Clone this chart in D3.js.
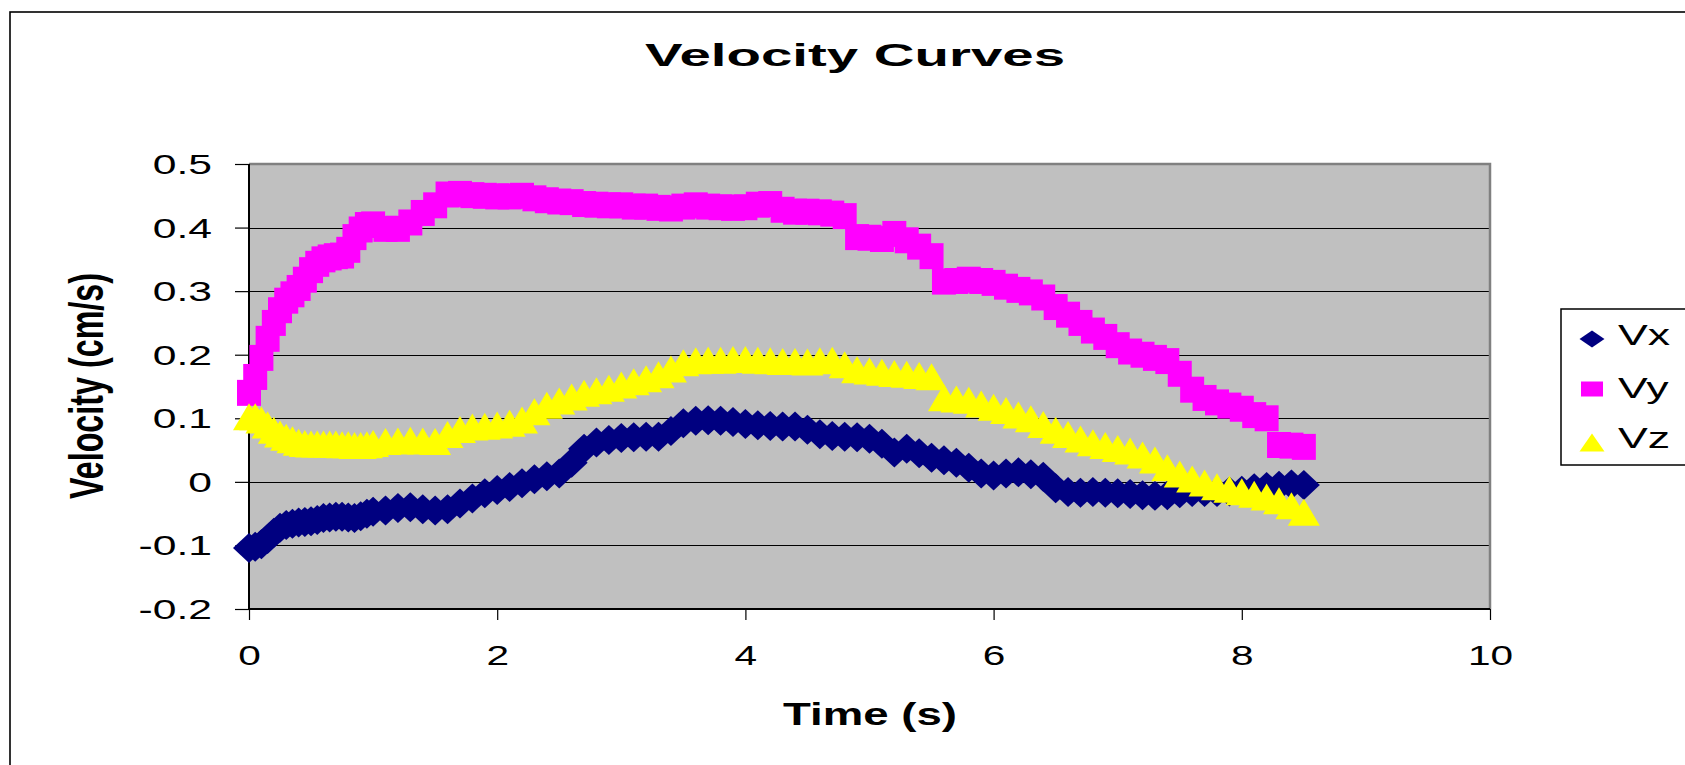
<!DOCTYPE html>
<html>
<head>
<meta charset="utf-8">
<script src="https://cdn.jsdelivr.net/npm/d3@7"></script>
<style>
  html, body { margin: 0; padding: 0; background: #fff; }
  svg { display: block; }
  text { font-family: "Liberation Sans", Arial, sans-serif; fill: #000; }
</style>
</head>
<body>
<svg id="chart" width="1685" height="765"></svg>
<script>
// ---------------- data ----------------
const time = [0,0.05,0.1,0.15,0.2,0.25,0.3,0.35,0.4,0.45,0.5,0.55,0.6,0.65,0.7,0.75,0.8,0.85,0.9,0.95,
  1.0,1.1,1.2,1.3,1.4,1.5,1.6,1.7,1.8,1.9,2.0,2.1,2.2,2.3,2.4,2.5,2.6,2.7,2.8,2.9,
  3.0,3.1,3.2,3.3,3.4,3.5,3.6,3.7,3.8,3.9,4.0,4.1,4.2,4.3,4.4,4.5,4.6,4.7,4.8,4.9,
  5.0,5.1,5.2,5.3,5.4,5.5,5.6,5.7,5.8,5.9,6.0,6.1,6.2,6.3,6.4,6.5,6.6,6.7,6.8,6.9,
  7.0,7.1,7.2,7.3,7.4,7.5,7.6,7.7,7.8,7.9,8.0,8.1,8.2,8.3,8.4,8.5];

const vx = [-0.104,-0.102,-0.098,-0.090,-0.080,-0.072,-0.068,-0.066,-0.064,-0.063,-0.062,-0.060,-0.057,-0.056,-0.055,-0.055,-0.056,-0.057,-0.054,-0.050,
  -0.047,-0.045,-0.041,-0.040,-0.043,-0.045,-0.043,-0.034,-0.026,-0.018,-0.013,-0.008,-0.002,0.004,0.009,0.013,0.030,0.052,0.062,0.066,
  0.069,0.070,0.071,0.071,0.080,0.092,0.096,0.097,0.096,0.094,0.091,0.089,0.088,0.087,0.087,0.082,0.075,0.072,0.071,0.070,
  0.068,0.060,0.046,0.052,0.045,0.038,0.034,0.030,0.022,0.013,0.010,0.013,0.015,0.012,0.008,-0.010,-0.016,-0.017,-0.016,-0.017,
  -0.018,-0.019,-0.021,-0.022,-0.021,-0.018,-0.016,-0.016,-0.016,-0.015,-0.014,-0.010,-0.008,-0.006,-0.004,-0.005];

const vy = [0.140,0.165,0.195,0.225,0.250,0.270,0.285,0.295,0.305,0.318,0.333,0.343,0.350,0.353,0.355,0.356,0.365,0.385,0.397,0.404,
  0.405,0.398,0.398,0.408,0.423,0.435,0.452,0.453,0.451,0.450,0.449,0.449,0.450,0.446,0.443,0.441,0.440,0.437,0.436,0.435,
  0.435,0.433,0.433,0.431,0.430,0.433,0.435,0.433,0.432,0.431,0.432,0.436,0.437,0.428,0.425,0.425,0.424,0.422,0.418,0.385,
  0.384,0.382,0.390,0.380,0.370,0.355,0.315,0.316,0.318,0.316,0.313,0.307,0.302,0.298,0.290,0.275,0.263,0.250,0.238,0.228,
  0.215,0.205,0.200,0.195,0.190,0.170,0.145,0.132,0.125,0.120,0.115,0.105,0.100,0.058,0.057,0.055];

const vz = [0.100,0.100,0.095,0.087,0.079,0.073,0.068,0.064,0.060,0.058,0.057,0.057,0.057,0.057,0.057,0.056,0.056,0.055,0.055,0.056,
  0.058,0.061,0.062,0.063,0.062,0.061,0.072,0.080,0.084,0.085,0.087,0.090,0.095,0.108,0.118,0.125,0.131,0.137,0.141,0.145,
  0.150,0.155,0.160,0.166,0.175,0.185,0.188,0.189,0.189,0.190,0.190,0.189,0.188,0.187,0.187,0.186,0.188,0.189,0.182,0.174,
  0.172,0.170,0.168,0.167,0.165,0.163,0.130,0.128,0.126,0.120,0.115,0.110,0.103,0.097,0.088,0.079,0.072,0.065,0.059,0.055,
  0.050,0.046,0.040,0.032,0.020,0.010,0.002,-0.004,-0.010,-0.014,-0.018,-0.022,-0.026,-0.032,-0.040,-0.050];

const seriesNames = ["Vx", "Vy", "Vz"];
const xTicks = [0, 2, 4, 6, 8, 10];
const xTickLabels = ["0", "2", "4", "6", "8", "10"];
const yTicks = [-0.2, -0.1, 0, 0.1, 0.2, 0.3, 0.4, 0.5];
const yTickLabels = ["-0.2", "-0.1", "0", "0.1", "0.2", "0.3", "0.4", "0.5"];

// ---------------- layout ----------------
const svg = d3.select("#chart");
const L = 249, R = 1490, T = 164, B = 609;
const x = d3.scaleLinear().domain([0, 10]).range([L, R]);
const y = d3.scaleLinear().domain([-0.2, 0.5]).range([B, T]);

// outer chart frame (extends past the right/bottom edge)
svg.append("rect").attr("x", 10).attr("y", 12).attr("width", 1720).attr("height", 800)
  .attr("fill", "#fff").attr("stroke", "#000").attr("stroke-width", 1.6);

// plot background
svg.append("rect").attr("x", L).attr("y", T).attr("width", R - L).attr("height", B - T)
  .attr("fill", "#C0C0C0");

// gridlines
svg.append("g").selectAll("line").data(yTicks.filter(d => d > -0.2 && d < 0.5)).join("line")
  .attr("x1", L).attr("x2", R).attr("y1", d => Math.round(y(d)) + 0.5).attr("y2", d => Math.round(y(d)) + 0.5)
  .attr("stroke", "#000").attr("stroke-width", 1);

// top/right border (gray)
svg.append("path").attr("d", `M${L},${T}H${R}V${B}`).attr("fill", "none")
  .attr("stroke", "#808080").attr("stroke-width", 2.5);

// axes
const yAxis = svg.append("g").attr("transform", `translate(${L},0)`)
  .call(d3.axisLeft(y).tickValues(yTicks).tickSize(14).tickFormat((d, i) => yTickLabels[i]));
yAxis.select(".domain").attr("stroke", "#000").attr("stroke-width", 2).attr("d", `M0,${T}V${B}`);
yAxis.selectAll(".tick line").attr("stroke", "#000").attr("stroke-width", 1.2);
yAxis.selectAll(".tick text")
  .attr("x", 0).attr("dy", "0.35em")
  .attr("transform", "translate(-37,0) scale(1.58,1)")
  .attr("text-anchor", "end")
  .style("font-size", "27px").style("font-family", '"Liberation Sans", Arial, sans-serif').attr("fill", "#000");

const xAxis = svg.append("g").attr("transform", `translate(0,${B})`)
  .call(d3.axisBottom(x).tickValues(xTicks).tickSize(11).tickFormat((d, i) => xTickLabels[i]));
xAxis.select(".domain").attr("stroke", "#000").attr("stroke-width", 2).attr("d", `M${L},0H${R}`);
xAxis.selectAll(".tick line").attr("stroke", "#000").attr("stroke-width", 1.2);
xAxis.selectAll(".tick text")
  .attr("y", 0).attr("dy", 0)
  .attr("transform", "translate(0,56) scale(1.45,1)")
  .attr("text-anchor", "middle")
  .style("font-size", "28px").style("font-family", '"Liberation Sans", Arial, sans-serif').attr("fill", "#000");

// markers
const plotShapes = {
  Vx: "M0,-15L16,0L0,15L-16,0Z",
  Vy: "M-12,-13H12V13H-12Z",
  Vz: "M0,-15L16,12H-16Z"
};
const legendShapes = {
  Vx: "M0,-8.5L12.5,0L0,8.5L-12.5,0Z",
  Vy: "M-11,-7.5H11V7.5H-11Z",
  Vz: "M0,-9.5L12.5,8.5H-12.5Z"
};
const colors = { Vx: "#000080", Vy: "#FF00FF", Vz: "#FFFF00" };
const values = { Vx: vx, Vy: vy, Vz: vz };

seriesNames.forEach(name => {
  svg.append("g").selectAll("path").data(time.map((t, i) => [t, values[name][i]])).join("path")
    .attr("d", plotShapes[name])
    .attr("transform", d => `translate(${x(d[0])},${y(d[1])})`)
    .attr("fill", colors[name]);
});

// titles
svg.append("text").attr("x", 855).attr("y", 66).attr("text-anchor", "middle")
  .attr("textLength", 420).attr("lengthAdjust", "spacingAndGlyphs")
  .style("font-size", "32px").style("font-weight", "bold").text("Velocity Curves");

svg.append("text").attr("x", 870).attr("y", 725).attr("text-anchor", "middle")
  .attr("textLength", 174).attr("lengthAdjust", "spacingAndGlyphs")
  .style("font-size", "32px").style("font-weight", "bold").text("Time (s)");

svg.append("text").attr("transform", "translate(103,386) rotate(-90) scale(1,1.5)")
  .attr("x", 0).attr("y", 0).attr("text-anchor", "middle")
  .attr("textLength", 226).attr("lengthAdjust", "spacingAndGlyphs")
  .style("font-size", "32px").style("font-weight", "bold").text("Velocity (cm/s)");

// legend
svg.append("rect").attr("x", 1561).attr("y", 309).attr("width", 140).attr("height", 156)
  .attr("fill", "#fff").attr("stroke", "#000").attr("stroke-width", 1.5);
const legendY = [339, 389, 443];
const legendTextY = [345, 398, 448];
seriesNames.forEach((name, i) => {
  svg.append("path").attr("d", legendShapes[name])
    .attr("transform", `translate(1592,${legendY[i]})`)
    .attr("fill", colors[name]);
  svg.append("text").attr("transform", `translate(1618,${legendTextY[i]}) scale(1.49,1)`)
    .style("font-size", "30px").text(name);
});
</script>
</body>
</html>
